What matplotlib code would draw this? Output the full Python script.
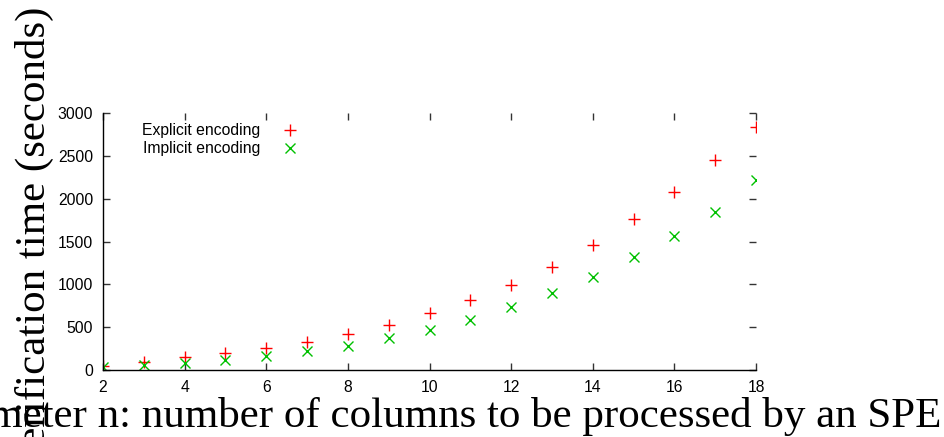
import matplotlib
matplotlib.use("Agg")
import matplotlib.pyplot as plt

x_vals = [2, 3, 4, 5, 6, 7, 8, 9, 10, 11, 12, 13, 14, 15, 16, 17, 18]
explicit = [45, 97, 148, 195, 253, 327, 420, 526, 662, 818, 993, 1207, 1460, 1760, 2076, 2453, 2831]
implicit = [39, 58, 86, 117, 167, 222, 284, 378, 467, 584, 740, 903, 1090, 1324, 1560, 1850, 2220]
series_labels = ["Explicit encoding", "Implicit encoding"]
x_ticks = [2, 4, 6, 8, 10, 12, 14, 16, 18]
y_ticks = [0, 500, 1000, 1500, 2000, 2500, 3000]
x_label = "Parameter n: number of columns to be processed by an SPE"
y_label = "Verification time (seconds)"

W, H = 944, 437
fig = plt.figure(figsize=(W / 100, H / 100), dpi=100)
ax = fig.add_axes([103 / W, 1 - 370 / H, (756 - 103) / W, (370 - 113) / H])

ax.plot(x_vals, explicit, linestyle="none", marker="+", color="#ff0000",
        markersize=8, markeredgewidth=1.0, label=series_labels[0])
ax.plot(x_vals, implicit, linestyle="none", marker="x", color="#00c000",
        markersize=6.5, markeredgewidth=1.0, label=series_labels[1])

ax.set_xlim(2, 18)
ax.set_ylim(0, 3000)
ax.set_xticks(x_ticks)
ax.set_yticks(y_ticks)
ax.set_xticklabels([str(v) for v in x_ticks])
ax.set_yticklabels([str(v) for v in y_ticks])

for s in ["top", "right"]:
    ax.spines[s].set_visible(False)
for s in ["left", "bottom"]:
    ax.spines[s].set_linewidth(1.0)
    ax.spines[s].set_color("black")

ax.tick_params(axis="both", which="major", direction="in", length=5, width=1.0,
               top=True, right=True, color="#333333",
               labelfontfamily="Liberation Sans", labelsize=11.3)
ax.tick_params(axis="x", pad=7)
ax.tick_params(axis="y", pad=7)

leg = ax.legend(loc="upper left", bbox_to_anchor=(142 / W, 1 - 123 / H),
                bbox_transform=fig.transFigure, frameon=False, markerfirst=False,
                borderpad=0, borderaxespad=0, handlelength=1.5, handletextpad=1.15,
                labelspacing=0.22, prop={"family": "Liberation Sans", "size": 11.3})

fig.text(34 / W, (1 - 239 / H), y_label, rotation=90, ha="center", va="center",
         family="Liberation Serif", fontsize=31)
fig.text(427 / W, 10 / H, x_label, ha="center", va="baseline",
         family="Liberation Serif", fontsize=31)

fig.savefig("out.png", dpi=100)
